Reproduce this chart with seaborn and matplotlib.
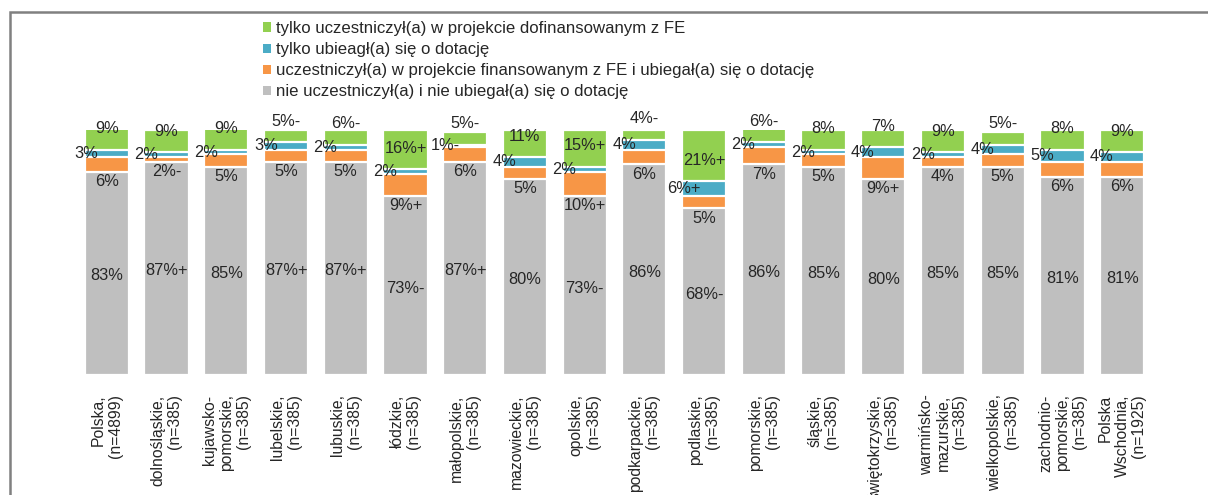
import matplotlib
matplotlib.use("Agg")
import matplotlib.pyplot as plt
from matplotlib.patches import Rectangle
import seaborn as sns
import pandas as pd
import numpy as np

# Regions and survey sizes (tick labels)
regions = [
    "Polska,\n(n=4899)", "dolnośląskie,\n(n=385)", "kujawsko-\npomorskie,\n(n=385)",
    "lubelskie,\n(n=385)", "lubuskie,\n(n=385)", "łódzkie,\n(n=385)",
    "małopolskie,\n(n=385)", "mazowieckie,\n(n=385)", "opolskie,\n(n=385)",
    "podkarpackie,\n(n=385)", "podlaskie,\n(n=385)", "pomorskie,\n(n=385)",
    "śląskie,\n(n=385)", "świętokrzyskie,\n(n=385)", "warmińsko-\nmazurskie,\n(n=385)",
    "wielkopolskie,\n(n=385)", "zachodnio-\npomorskie,\n(n=385)", "Polska\nWschodnia,\n(n=1925)",
]

# Shares in percent, bottom to top of each stack
neither = [83, 87, 85, 87, 87, 73, 87, 80, 73, 86, 68, 86, 85, 80, 85, 85, 81, 81]
both = [6, 2, 5, 5, 5, 9, 6, 5, 10, 6, 5, 7, 5, 9, 4, 5, 6, 6]
applied_only = [3, 2, 2, 3, 2, 2, 1, 4, 2, 4, 6, 2, 2, 4, 2, 4, 5, 4]
participated_only = [9, 9, 9, 5, 6, 16, 5, 11, 15, 4, 21, 6, 8, 7, 9, 5, 8, 9]

# Significance markers shown next to the percentages
neither_sig = ["", "+", "", "+", "+", "-", "+", "", "-", "", "-", "", "", "", "", "", "", ""]
both_sig = ["", "-", "", "", "", "+", "", "", "+", "", "", "", "", "+", "", "", "", ""]
applied_sig = ["", "", "", "", "", "", "-", "", "", "", "+", "", "", "", "", "", "", ""]
participated_sig = ["", "", "", "-", "-", "+", "-", "", "+", "-", "+", "-", "", "", "", "-", "", ""]

series_names = [
    "tylko uczestniczył(a) w projekcie dofinansowanym z FE",
    "tylko ubieagł(a) się o dotację",
    "uczestniczył(a) w projekcie finansowanym z FE i ubiegał(a) się o dotację",
    "nie uczestniczył(a) i nie ubiegał(a) się o dotację",
]
colors = ["#92D050", "#4BACC6", "#F79646", "#BFBFBF"]

sns.set_style("white")
plt.rcParams["font.family"] = ["Liberation Sans", "DejaVu Sans"]

W, H = 1208, 495
fig = plt.figure(figsize=(W / 100, H / 100), dpi=100)
ax = fig.add_axes([77 / W, (H - 375) / H, (1152 - 77) / W, 245 / H])

n = len(regions)
idx = np.arange(n)
layers = [neither, both, applied_only, participated_only]
cum = np.cumsum(np.array(layers), axis=0)  # cumulative tops

df = pd.DataFrame({"region": regions})
# Draw cumulative totals from the tallest down so each segment sits on the previous one
for k in [3, 2, 1, 0]:
    df["val"] = cum[k]
    sns.barplot(data=df, x="region", y="val", color=colors[3 - k], width=0.74,
                edgecolor="white", linewidth=1.6, saturation=1, ax=ax,
                label=series_names[3 - k])
handles, labels = ax.get_legend_handles_labels()
if ax.get_legend() is not None:
    ax.get_legend().remove()

bw = 0.74
fs = 11.8
for i in range(n):
    g, o, b, p = neither[i], both[i], applied_only[i], participated_only[i]
    ax.text(i, g / 2 - 1, f"{g}%{neither_sig[i]}", ha="center", va="center", fontsize=fs)
    ax.text(i, g - 4, f"{o}%{both_sig[i]}", ha="center", va="center", fontsize=fs)
    ax.text(i - bw / 2 + 0.03, g + o + b / 2, f"{b}%{applied_sig[i]}", ha="center",
            va="center", fontsize=fs)
    ax.text(i, g + o + b + 8.5, f"{p}%{participated_sig[i]}", ha="center", va="center",
            fontsize=fs, clip_on=False)

ax.set_xlim(-0.5, n - 0.5)
ax.set_ylim(0, 100)
ax.set_xlabel("")
ax.set_ylabel("")
ax.set_yticks([])
ax.set_xticks(idx)
ax.set_xticklabels(regions, rotation=90, ha="center", va="top", multialignment="right",
                   fontsize=11.3, linespacing=1.15)
ax.tick_params(axis="x", length=0, pad=14)
for s in ax.spines.values():
    s.set_visible(False)

leg = fig.legend(handles, labels, loc="upper left", bbox_to_anchor=(263 / W, 1 - 21 / H),
                 frameon=False, fontsize=12.1, handlelength=0.45, handleheight=0.45,
                 handletextpad=0.35, labelspacing=0.36, borderpad=0, borderaxespad=0)
for h in leg.legend_handles:
    h.set_edgecolor("none")

# Outer chart-area frame
fig.patches.append(Rectangle((9.5 / W, -0.1), 1.2, 1.1 - 11.5 / H, transform=fig.transFigure,
                             fill=False, edgecolor="#808080", linewidth=1.8))

fig.savefig("out.png", dpi=100)
